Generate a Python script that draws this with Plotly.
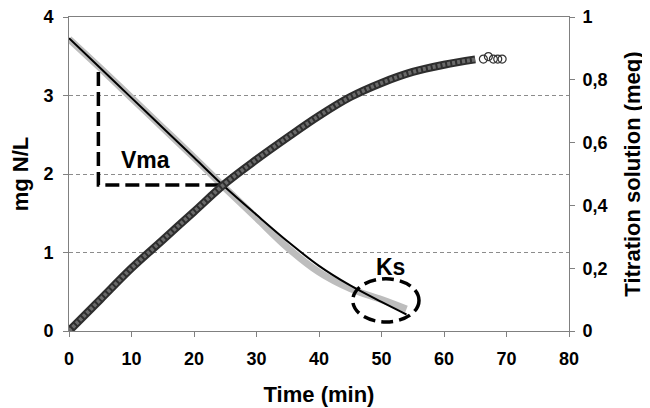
import plotly.graph_objects as go

# Measured ammonium (left axis)
time_meas = [0, 5, 10, 15, 20, 25, 30, 35, 40, 45, 50, 54]
n_meas = [3.72, 3.35, 2.97, 2.59, 2.21, 1.82, 1.44, 1.06, 0.75, 0.54, 0.40, 0.28]

# Model fit (left axis)
time_fit = [0, 5, 10, 15, 20, 25, 30, 35, 40, 45, 50, 54]
n_fit = [3.73, 3.35, 2.97, 2.59, 2.21, 1.83, 1.48, 1.14, 0.83, 0.58, 0.37, 0.21]

# Titration solution (right axis)
time_titr = [0, 5, 10, 15, 20, 25, 30, 35, 40, 45, 50, 55, 60, 65]
titr = [0, 0.10, 0.20, 0.29, 0.38, 0.47, 0.546, 0.617, 0.685, 0.745, 0.79, 0.825, 0.848, 0.865]

# Last open-circle titration points
time_end = [66.3, 67.1, 67.9, 68.6, 69.3]
titr_end = [0.866, 0.874, 0.866, 0.866, 0.866]

# Annotation guides
vma_x = [4.7, 4.7, 24.2]
vma_y = [3.30, 1.86, 1.86]
ks_center = (50.7, 0.39)
ks_radius = (5.3, 0.275)

FONT = "Liberation Sans, Arial, sans-serif"

fig = go.Figure()

fig.add_trace(go.Scatter(x=time_meas, y=n_meas, mode="lines", line=dict(color="#bdbdbd", width=7, shape="spline"),
                         showlegend=False, hoverinfo="skip"))
fig.add_trace(go.Scatter(x=time_fit, y=n_fit, mode="lines", line=dict(color="#000000", width=2, shape="spline"),
                         showlegend=False))
fig.add_trace(go.Scatter(x=time_titr, y=titr, mode="lines", yaxis="y2",
                         line=dict(color="#2e2e2e", width=8, shape="spline"), showlegend=False))
fig.add_trace(go.Scatter(x=time_titr, y=titr, mode="lines", yaxis="y2",
                         line=dict(color="#6a6a6a", width=4, shape="spline", dash="3px,2px"), showlegend=False,
                         hoverinfo="skip"))
fig.add_trace(go.Scatter(x=time_end, y=titr_end, mode="markers", yaxis="y2",
                         marker=dict(symbol="circle-open", size=8, color="#333333", line=dict(width=1.2)),
                         showlegend=False))
fig.add_trace(go.Scatter(x=vma_x, y=vma_y, mode="lines", line=dict(color="black", width=3.5, dash="14px,6px"),
                         showlegend=False, hoverinfo="skip"))

fig.add_shape(type="circle", xref="x", yref="y",
              x0=ks_center[0] - ks_radius[0], x1=ks_center[0] + ks_radius[0],
              y0=ks_center[1] - ks_radius[1], y1=ks_center[1] + ks_radius[1],
              line=dict(color="black", width=3.5, dash="12px,6px"))

fig.add_annotation(x=12.3, y=2.18, text="Vma", showarrow=False,
                   font=dict(family=FONT, size=23, color="black", weight="bold"))
fig.add_annotation(x=51.4, y=0.82, text="Ks", showarrow=False,
                   font=dict(family=FONT, size=23, color="black", weight="bold"))

tickfont = dict(family=FONT, size=18, color="black", weight="bold")
titlefont = dict(family=FONT, size=22, color="black", weight="bold")

# The page body has an 8px default margin, so the figure is 8px smaller than the window.
fig.update_layout(
    width=642, height=400,
    margin=dict(l=61, r=81, t=9, b=77),
    paper_bgcolor="white", plot_bgcolor="white",
    separators=", ",
    font=dict(family=FONT),
    xaxis=dict(range=[0, 80], dtick=10, showgrid=False, zeroline=False, automargin=False,
               showline=True, linecolor="#808080", linewidth=1, mirror=True,
               ticks="outside", ticklen=5, tickcolor="#808080", ticklabelstandoff=6,
               ticklabeloverflow="allow",
               tickfont=tickfont, title=dict(text="Time (min)", font=titlefont, standoff=19)),
    yaxis=dict(range=[0, 4], dtick=1, showgrid=True, gridcolor="#8c8c8c", griddash="4px,3px", gridwidth=1,
               zeroline=False, showline=True, linecolor="#808080", linewidth=1, automargin=False,
               ticks="outside", ticklen=5, tickcolor="#808080", ticklabelstandoff=6,
               ticklabeloverflow="allow",
               tickfont=tickfont, title=dict(text="mg N/L", font=titlefont, standoff=10)),
    yaxis2=dict(range=[0, 1], dtick=0.2, overlaying="y", side="right", showgrid=False, zeroline=False,
                showline=True, linecolor="#808080", linewidth=1, automargin=False,
                ticks="outside", ticklen=5, tickcolor="#808080", ticklabelstandoff=4,
                ticklabeloverflow="allow",
                tickfont=tickfont, title=dict(text="Titration solution (meq)", font=titlefont, standoff=17)),
)

fig.write_html("out.html")
